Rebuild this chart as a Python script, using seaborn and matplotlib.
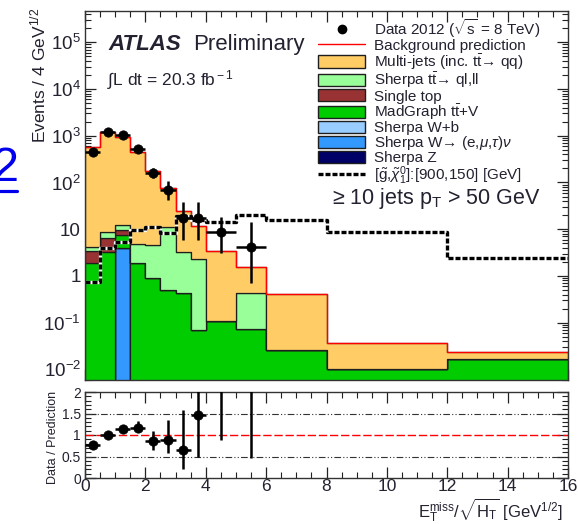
import numpy as np
import pandas as pd
import matplotlib
matplotlib.use("Agg")
import matplotlib.pyplot as plt
import seaborn as sns
from matplotlib.patches import Patch
from matplotlib.lines import Line2D
from matplotlib.ticker import FixedLocator, MultipleLocator, LogLocator, NullFormatter, FixedFormatter

sns.set_theme(style="ticks")
plt.rcParams['font.family'] = ['Liberation Sans', 'DejaVu Sans']
plt.rcParams['mathtext.fontset'] = 'custom'
plt.rcParams['mathtext.rm'] = 'Liberation Sans'
plt.rcParams['mathtext.it'] = 'Liberation Sans:italic'
plt.rcParams['mathtext.bf'] = 'Liberation Sans:bold'
plt.rcParams['mathtext.sf'] = 'Liberation Sans'

TXT = '#222230'

# ---------------- data ----------------
bin_edges = [0, 0.5, 1, 1.5, 2, 2.5, 3, 3.5, 4, 5, 6, 8, 12, 16]
multijets    = [575.8, 1191.0, 937.7, 450.2, 175.4, 65.7, 20.7, 9.2, 3.29, 1.12, 0.384, 0.027, 0.0064]
sherpa_tt    = [0.8, 2.2, 2.6, 2.9, 3.7, 10.8, 2.9, 2.2, 0.0, 0.36, 0.0, 0.0, 0.0]
single_top   = [1.5, 3.2, 2.2, 0.0, 0.0, 0.0, 0.0, 0.0, 0.0, 0.0, 0.0, 0.0, 0.0]
madgraph_ttv = [1.9, 3.3, 3.5, 1.9, 0.9, 0.5, 0.43, 0.07, 0.11, 0.073, 0.026, 0.010, 0.0166]
sherpa_wb    = [0.0] * 13
sherpa_w     = [0.0, 0.0, 4.0, 0.0, 0.0, 0.0, 0.0, 0.0, 0.0, 0.0, 0.0, 0.0, 0.0]
sherpa_z     = [0.0] * 13
background_total = [580, 1200, 950, 455, 180, 77, 24, 11.5, 3.4, 1.55, 0.41, 0.037, 0.023]
signal_900_150 = [0.75, 4.0, 5.2, 9.8, 11.4, 8.3, 19, 16, 14.5, 20, 15.8, 8.6, 2.4]

data_x     = [0.25, 0.75, 1.25, 1.75, 2.25, 2.75, 3.25, 3.75, 4.5, 5.5]
data_xerr  = [0.25, 0.25, 0.25, 0.25, 0.25, 0.25, 0.25, 0.25, 0.5, 0.5]
data_y     = [450, 1210, 1050, 525, 160, 69, 17.5, 17.5, 8.6, 4.2]
data_elo   = [55, 100, 90, 65, 36, 27, 11.6, 11.6, 5.5, 3.5]
data_ehi   = [60, 105, 95, 70, 40, 36, 21.5, 21.5, 10, 10.3]

ratio_y    = [0.77, 1.0, 1.13, 1.16, 0.87, 0.88, 0.65, 1.47, 2.53, 2.71]
ratio_elo  = [0.06, 0.05, 0.06, 0.10, 0.22, 0.30, 0.45, 0.97, 1.65, 2.24]
ratio_ehi  = [0.06, 0.05, 0.06, 0.16, 0.23, 0.47, 0.93, 0.90, 1.70, 3.00]

components = ["Multi-jets", "Sherpa tt", "Single top", "MadGraph ttV",
              "Sherpa W+b", "Sherpa W", "Sherpa Z"]
comp_values = [multijets, sherpa_tt, single_top, madgraph_ttv, sherpa_wb, sherpa_w, sherpa_z]
comp_colors = ["#ffcc66", "#99ff99", "#993333", "#00cc00", "#99ccff", "#3399ff", "#000066"]
legend_labels = [r"Multi-jets (inc. t$\bar{\rm t}$→ qq)",
                 r"Sherpa t$\bar{\rm t}$→ ql,ll",
                 "Single top",
                 r"MadGraph t$\bar{\rm t}$+V",
                 "Sherpa W+b",
                 r"Sherpa W→ (e,$\mu$,$\tau$)$\nu$",
                 "Sherpa Z"]

centers = [(a + b) / 2 for a, b in zip(bin_edges[:-1], bin_edges[1:])]
rows = []
for name, vals in zip(components, comp_values):
    for c, v in zip(centers, vals):
        rows.append({"x": c, "w": v, "comp": name})
stack_df = pd.DataFrame(rows)

# ---------------- figure ----------------
W, H = 578, 524
fig = plt.figure(figsize=(W / 100, H / 100), dpi=100)
fig.patch.set_facecolor("white")

def fx(px):
    return px / W

def fy(py):
    return 1 - py / H

ax = fig.add_axes([fx(85), fy(380), fx(568) - fx(85), fy(11) - fy(380)])
axr = fig.add_axes([fx(85), fy(478), fx(568) - fx(85), fy(392) - fy(478)])

ax.set_yscale("log")
sns.histplot(data=stack_df, x="x", weights="w", hue="comp", hue_order=components,
             palette=dict(zip(components, comp_colors)), bins=list(bin_edges),
             multiple="stack", element="step", fill=True, alpha=1,
             edgecolor="#1e1e1e", linewidth=0.9, legend=False, ax=ax)

step_x = list(bin_edges)
bg_step = list(background_total) + [background_total[-1]]
sig_step = list(signal_900_150) + [signal_900_150[-1]]
sns.lineplot(x=step_x, y=bg_step, drawstyle="steps-post", color="red", lw=1.0,
             estimator=None, sort=False, ax=ax)
sns.lineplot(x=step_x, y=sig_step, drawstyle="steps-post", color="white", lw=2.4,
             estimator=None, sort=False, ax=ax)
sig_line = sns.lineplot(x=step_x, y=sig_step, drawstyle="steps-post", color="black",
                        lw=2.4, estimator=None, sort=False, ax=ax)
sig_line.lines[-1].set_dashes((1.5, 0.6))
sig_line.lines[-1].set_dash_capstyle("butt")

ax.errorbar(data_x, data_y, xerr=data_xerr, yerr=[data_elo, data_ehi], fmt="none",
            ecolor="black", elinewidth=1.8, capsize=0, zorder=5)
sns.scatterplot(x=data_x, y=data_y, color="black", s=45, edgecolor="black", zorder=6, ax=ax)

ax.set_xlim(0, 16)
ax.set_ylim(10 ** -2.227, 10 ** 5.67)
ax.set_xlabel("")
ax.set_ylabel("")

# ticks main
ax.xaxis.set_major_locator(MultipleLocator(2))
ax.xaxis.set_minor_locator(MultipleLocator(0.5))
ax.tick_params(axis="x", labelbottom=False)
ax.yaxis.set_major_locator(FixedLocator([1e-2, 1e-1, 1, 10, 1e2, 1e3, 1e4, 1e5]))
ax.yaxis.set_major_formatter(FixedFormatter([r"10$^{-2}$", r"10$^{-1}$", "1", "10",
                                             r"10$^{2}$", r"10$^{3}$", r"10$^{4}$", r"10$^{5}$"]))
ax.yaxis.set_minor_locator(LogLocator(base=10, subs=np.arange(2, 10), numticks=20))
ax.yaxis.set_minor_formatter(NullFormatter())
for a in (ax, axr):
    a.tick_params(which="both", direction="in", top=True, right=True, color="#222222")
    a.tick_params(which="major", length=8, width=0.9)
    a.tick_params(which="minor", length=4, width=0.8)
    for s in a.spines.values():
        s.set_color("#333333")
        s.set_linewidth(1.0)
ax.tick_params(axis="y", labelsize=13.5, pad=3, labelcolor=TXT)

# ratio
axr.axhline(1.0, color="red", lw=1.0, ls=(0, (6, 2)), zorder=1)
axr.axhline(0.5, color="#333333", lw=0.8, ls=(0, (6, 2, 1, 2, 1, 2)), zorder=1)
axr.axhline(1.5, color="#333333", lw=0.8, ls=(0, (6, 2, 1, 2, 1, 2)), zorder=1)
axr.errorbar(data_x, ratio_y, xerr=data_xerr, yerr=[ratio_elo, ratio_ehi], fmt="none",
             ecolor="black", elinewidth=1.8, capsize=0, zorder=5)
sns.scatterplot(x=data_x, y=ratio_y, color="black", s=45, edgecolor="black", zorder=6, ax=axr)
axr.set_xlim(0, 16)
axr.set_ylim(0, 2.0)
axr.xaxis.set_major_locator(MultipleLocator(2))
axr.xaxis.set_minor_locator(MultipleLocator(0.5))
axr.yaxis.set_major_locator(FixedLocator([0, 0.5, 1, 1.5, 2]))
axr.yaxis.set_major_formatter(FixedFormatter(["0", "0.5", "1", "1.5", "2"]))
axr.yaxis.set_minor_locator(MultipleLocator(0.1))
axr.tick_params(axis="x", labelsize=12.5, pad=1, labelcolor=TXT)
axr.tick_params(axis="y", labelsize=10, pad=3, labelcolor=TXT)
axr.set_xlabel("")
axr.set_ylabel("")

# labels
fig.text(fx(38), fy(8), r"Events / 4 GeV$^{1/2}$", rotation=90, ha="center", va="top",
         fontsize=12.5, color=TXT)
fig.text(fx(53), fy(437), "Data / Prediction", rotation=90, ha="center", va="center",
         fontsize=9, color=TXT)
fig.text(fx(563), fy(518), r"E$_{\rm T}^{\rm miss}$/$\sqrt{\rm H_T}$ [GeV$^{1/2}$]",
         ha="right", va="baseline", fontsize=12, color=TXT)

fig.text(fx(108), fy(50), "ATLAS", fontsize=16, fontweight="bold", fontstyle="italic",
         va="baseline", color=TXT)
fig.text(fx(193), fy(50), "Preliminary", fontsize=16, va="baseline", color=TXT)
fig.text(fx(107), fy(85), r"∫L dt = 20.3 fb$^{\rm -1}$", fontsize=12.5, va="baseline", color=TXT)
fig.text(fx(332), fy(204), r"≥ 10 jets p$_{\rm T}$ > 50 GeV", fontsize=15.5, va="baseline", color=TXT)

# hyperlink artifact
fig.text(fx(-8), fy(181), "2", fontsize=35, color="#0000ee", va="baseline")
fig.add_artist(Line2D([0, fx(17)], [fy(191), fy(191)], color="#0000ee", lw=2.3,
                      transform=fig.transFigure))

# legend
handles = [Line2D([], [], marker="o", color="black", ls="none", markersize=6),
           Line2D([], [], color="red", lw=1.0)]
for col in comp_colors:
    handles.append(Patch(facecolor=col, edgecolor="#1e1e1e", lw=1.0))
handles.append(Line2D([], [], color="black", lw=2.4, dashes=(1.5, 0.6)))
labels = [r"Data 2012 ($\sqrt{\rm s}$ = 8 TeV)", "Background prediction"] + legend_labels + \
         [r"[$\tilde{\rm g}$,$\tilde{\chi}^{0}_{1}$]:[900,150] [GeV]"]
leg = fig.legend(handles, labels, loc="upper left", bbox_to_anchor=(fx(318), fy(17)),
                 frameon=False, fontsize=11, handlelength=3.1, handleheight=0.85,
                 handletextpad=0.55, labelspacing=-0.08, borderpad=0, borderaxespad=0)
for t in leg.get_texts():
    t.set_color(TXT)

fig.savefig("out.png", dpi=100, facecolor="white")
